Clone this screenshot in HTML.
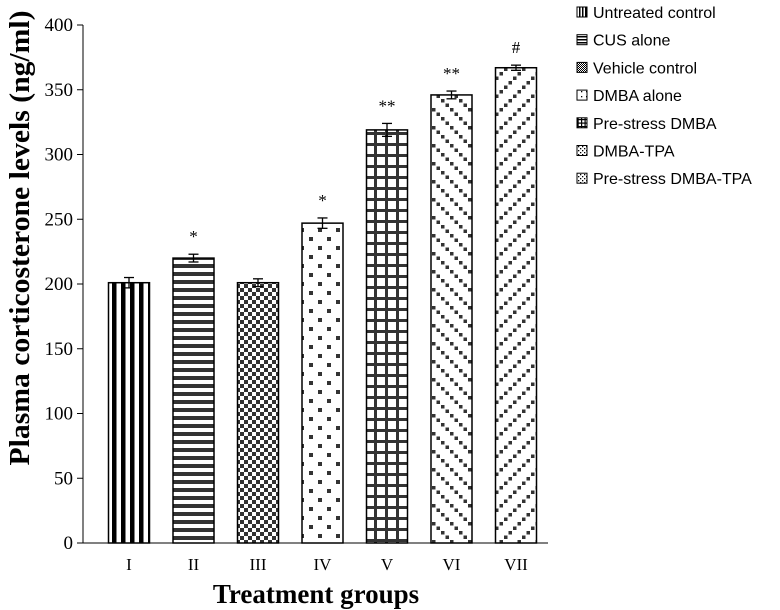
<!DOCTYPE html>
<html><head><meta charset="utf-8"><style>
body{margin:0;background:#fff;width:780px;height:610px;overflow:hidden}
svg{display:block}
.t{font-family:"Liberation Serif",serif}
.l{font-family:"Liberation Sans",sans-serif;font-size:16px}
</style></head><body>
<svg id="chart" width="780" height="610">
<defs>
<pattern id="p0" width="9" height="9" patternUnits="userSpaceOnUse" x="112"><rect x="0" y="0" width="4.5" height="9" fill="#000"/></pattern>
<pattern id="p1" width="8" height="8" patternUnits="userSpaceOnUse"><rect x="0" y="0" width="8" height="4" fill="#333"/></pattern>
<pattern id="p2" width="8" height="8" patternUnits="userSpaceOnUse"><rect width="4" height="4" fill="#333"/><rect x="4" y="4" width="4" height="4" fill="#333"/></pattern>
<pattern id="p3" width="18" height="18" patternUnits="userSpaceOnUse"><rect x="3" y="3" width="4" height="4" fill="#333"/><rect x="12" y="12" width="4" height="4" fill="#333"/></pattern>
<pattern id="p4" width="11" height="11" patternUnits="userSpaceOnUse"><rect x="0" y="0" width="3" height="11" fill="#333"/><rect x="0" y="0" width="11" height="3" fill="#333"/></pattern>
<pattern id="p5" width="18" height="18" patternUnits="userSpaceOnUse"><rect x="0" y="0" width="3.5" height="3.5" fill="#333"/><rect x="4.5" y="4.5" width="3.5" height="3.5" fill="#333"/><rect x="9" y="9" width="3.5" height="3.5" fill="#333"/><rect x="13.5" y="13.5" width="3.5" height="3.5" fill="#333"/></pattern>
<pattern id="p6" width="18" height="18" patternUnits="userSpaceOnUse"><rect x="13.5" y="0" width="3.5" height="3.5" fill="#333"/><rect x="9" y="4.5" width="3.5" height="3.5" fill="#333"/><rect x="4.5" y="9" width="3.5" height="3.5" fill="#333"/><rect x="0" y="13.5" width="3.5" height="3.5" fill="#333"/></pattern>
<pattern id="s0" width="3" height="3" patternUnits="userSpaceOnUse"><rect width="1.5" height="3" fill="#000"/></pattern>
<pattern id="s1" width="3" height="3" patternUnits="userSpaceOnUse"><rect width="3" height="1.5" fill="#000"/></pattern>
<pattern id="s2" width="2" height="2" patternUnits="userSpaceOnUse"><rect width="1" height="1" fill="#000"/><rect x="1" y="1" width="1" height="1" fill="#000"/></pattern>
<pattern id="s3" width="5" height="5" patternUnits="userSpaceOnUse"><rect x="1" y="1" width="1.3" height="1.3" fill="#000"/></pattern>
<pattern id="s4" width="3.5" height="3.5" patternUnits="userSpaceOnUse"><rect width="1.2" height="3.5" fill="#000"/><rect width="3.5" height="1.2" fill="#000"/></pattern>
<pattern id="s5" width="4" height="4" patternUnits="userSpaceOnUse"><rect width="1.3" height="1.3" fill="#000"/><rect x="2" y="2" width="1.3" height="1.3" fill="#000"/></pattern>
<pattern id="s6" width="4" height="4" patternUnits="userSpaceOnUse"><rect x="2" width="1.3" height="1.3" fill="#000"/><rect x="0" y="2" width="1.3" height="1.3" fill="#000"/></pattern>
</defs>
<g id="plot"></g>
<text class="t" x="316" y="603" font-size="27" font-weight="bold" text-anchor="middle">Treatment groups</text>
<text class="t" transform="translate(29,238) rotate(-90)" font-size="29" font-weight="bold" text-anchor="middle" textLength="455" lengthAdjust="spacingAndGlyphs">Plasma corticosterone levels (ng/ml)</text>
</svg>
<script>
const categories=["I","II","III","IV","V","VI","VII"];
const values=[201,220,201,247,319,346,367];
const errors=[4,3,3,4,5,3,2];
const marks=["","*","","*","**","**","#"];
const legendLabels=["Untreated control","CUS alone","Vehicle control","DMBA alone","Pre-stress DMBA","DMBA-TPA","Pre-stress DMBA-TPA"];
const yTicks=[0,50,100,150,200,250,300,350,400];
const NS="http://www.w3.org/2000/svg";
const g=document.getElementById('plot');
const svg=document.getElementById('chart');
const x0=83,x1=548,yb=543,yt=25;
const y=v=>yb-(v/400)*(yb-yt);
const xc=i=>129+i*64.5;
function mk(t,a,p){const e=document.createElementNS(NS,t);for(const k in a)e.setAttribute(k,a[k]);(p||g).appendChild(e);return e;}
let ax=mk('line',{x1:x0,y1:yt,x2:x0,y2:yb,stroke:'#000'});


let bx=mk('line',{x1:x0,y1:yb,x2:x1,y2:yb,stroke:'#000'});


yTicks.forEach(v=>{
 mk('line',{x1:x0-6,y1:y(v),x2:x0,y2:y(v),stroke:'#000'});
 const t=mk('text',{x:x0-10,y:y(v)+6,'text-anchor':'end','font-size':'19',class:'t'});t.textContent=v;
 
 
});
categories.forEach((c,i)=>{
 const w=41,xl=xc(i)-w/2;
 const r=mk('rect',{x:xl,y:y(values[i]),width:w,height:yb-y(values[i]),fill:'url(#p'+i+')',stroke:'#000','stroke-width':1.5});
 
 
 const eh=y(values[i]-errors[i]),el=y(values[i]+errors[i]);
 mk('line',{x1:xc(i),y1:eh,x2:xc(i),y2:el,stroke:'#000','stroke-width':1.3});
 mk('line',{x1:xc(i)-5,y1:eh,x2:xc(i)+5,y2:eh,stroke:'#000','stroke-width':1.3});
 mk('line',{x1:xc(i)-5,y1:el,x2:xc(i)+5,y2:el,stroke:'#000','stroke-width':1.3});
 const t=mk('text',{x:xc(i),y:570,'text-anchor':'middle','font-size':'17',class:'t'});t.textContent=c;
 
 
 if(marks[i]){const s=mk('text',{x:xc(i),y:el-12,'text-anchor':'middle','font-size':'17',class:'t'});s.textContent=marks[i];
 
 }
});
legendLabels.forEach((l,i)=>{
 const yy=12+i*27.7;
 const r=mk('rect',{x:577,y:yy-5,width:10,height:10,fill:'url(#s'+i+')',stroke:'#000'},svg);
 
 
 const t=mk('text',{x:593,y:yy+6,class:'l'},svg);t.textContent=l;
 
 
});
</script>
</body></html>
